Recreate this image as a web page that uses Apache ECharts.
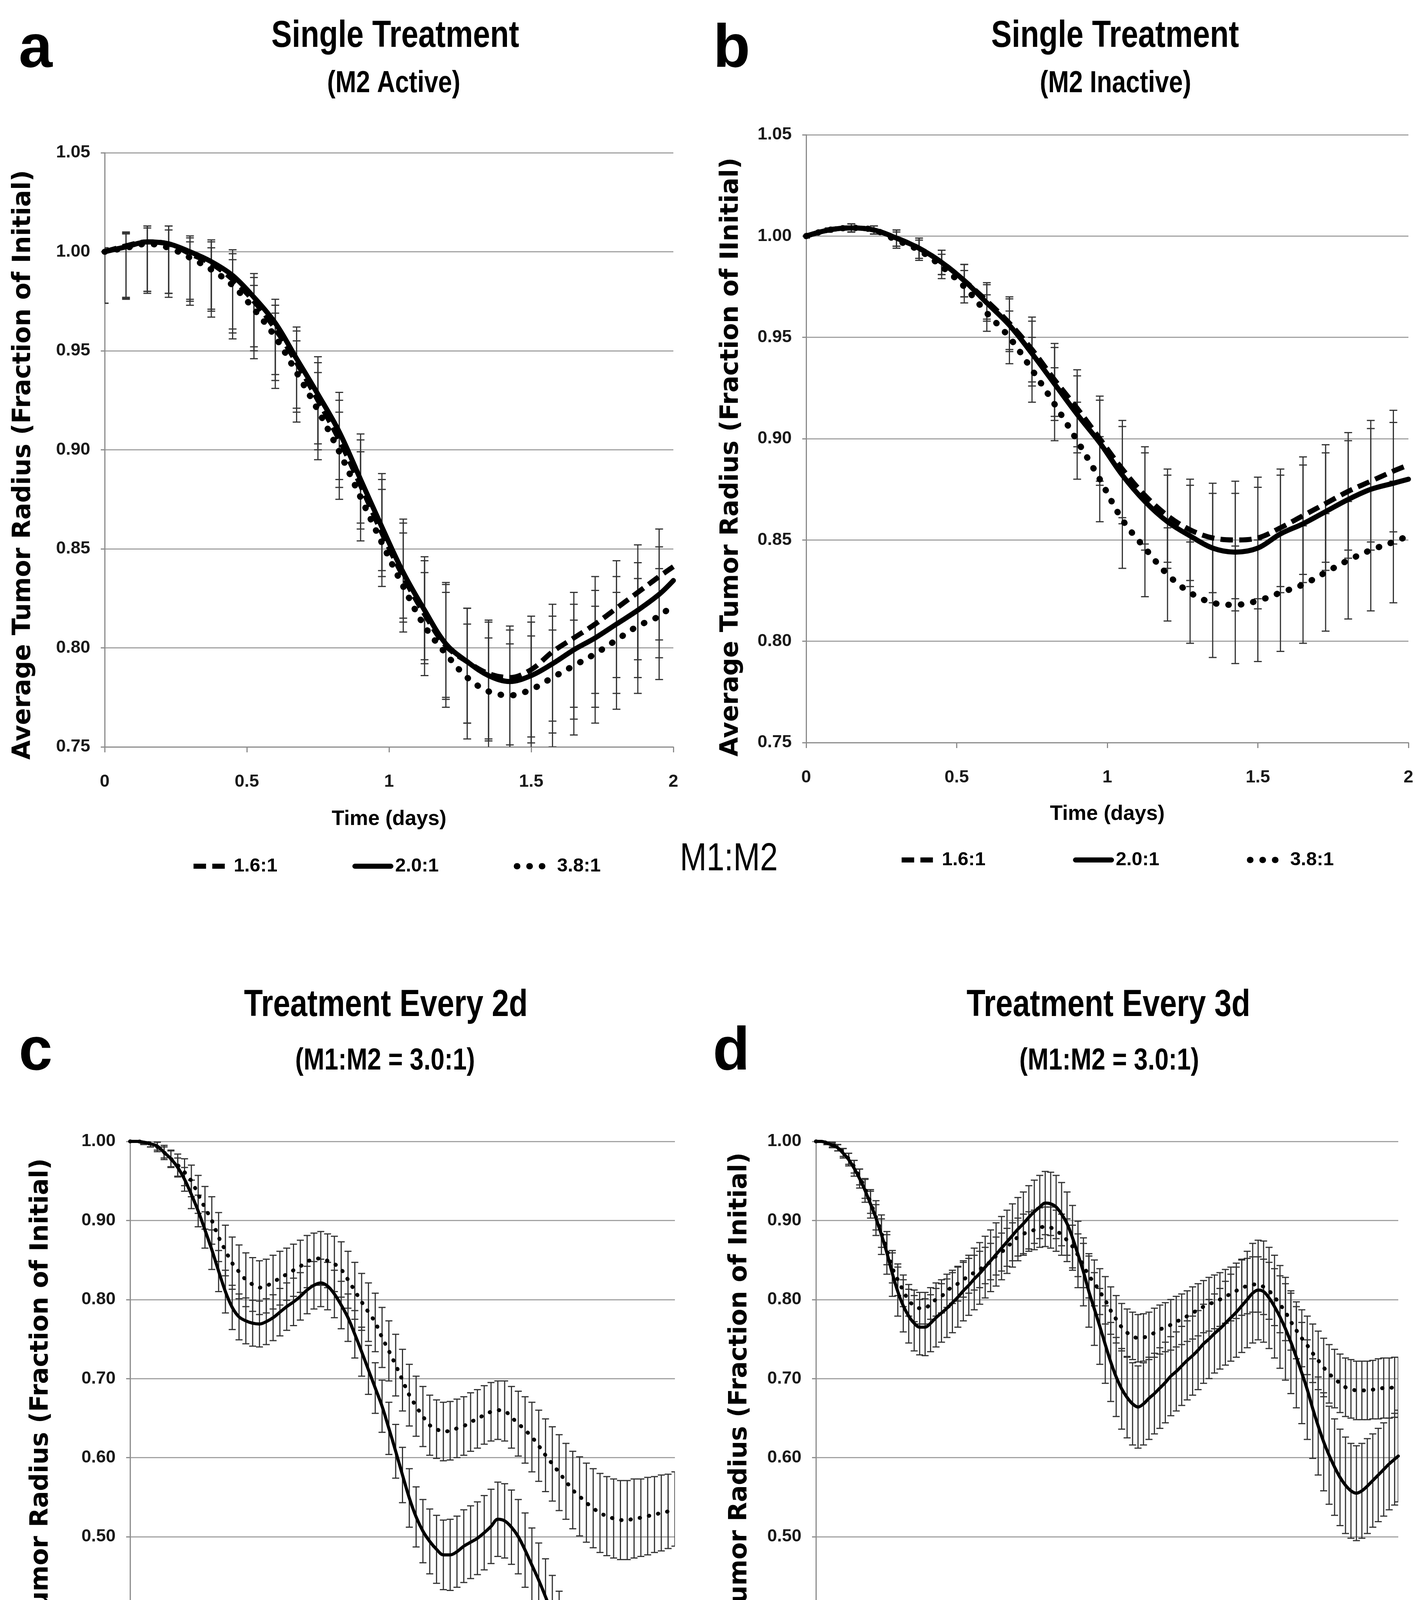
<!DOCTYPE html>
<html>
<head>
<meta charset="utf-8">
<script src="https://cdn.jsdelivr.net/npm/echarts@6/dist/echarts.min.js"></script>
<style>
html,body{margin:0;padding:0;background:#ffffff;}
#chart{width:3651px;height:4843px;}
</style>
</head>
<body>
<div id="chart"></div>
<script>
// ---------------- DATA ----------------
// Panels a & b: time grid (days)
const timeAB = [0,0.075,0.15,0.225,0.3,0.375,0.45,0.525,0.6,0.675,0.75,0.825,0.9,0.975,1.05,1.125,1.2,1.275,1.35,1.425,1.5,1.575,1.65,1.725,1.8,1.875,1.95,2];

// Panel a: Single Treatment (M2 Active)
const ratio16_A = [1.000,1.003,1.005,1.004,0.999,0.994,0.986,0.975,0.961,0.944,0.925,0.905,0.882,0.858,0.836,0.817,0.801,0.793,0.787,0.785,0.789,0.798,0.805,0.812,0.820,0.828,0.836,0.841];
const ratio20_A = [1.000,1.0025,1.005,1.004,1.000,0.995,0.988,0.977,0.964,0.946,0.928,0.909,0.885,0.861,0.838,0.819,0.802,0.793,0.786,0.783,0.786,0.792,0.799,0.805,0.812,0.819,0.827,0.834];
const ratio38_A = [1.000,1.002,1.004,1.002,0.997,0.991,0.983,0.971,0.957,0.939,0.920,0.899,0.876,0.853,0.831,0.811,0.797,0.785,0.778,0.776,0.779,0.785,0.791,0.797,0.804,0.811,0.816,0.822];
const errUp_A   = [0.002,0.007,0.008,0.009,0.008,0.011,0.013,0.012,0.012,0.016,0.019,0.020,0.023,0.027,0.027,0.027,0.031,0.027,0.027,0.026,0.027,0.024,0.023,0.024,0.024,0.024,0.024,null];
const errDown_A = [0.026,0.026,0.025,0.025,0.024,0.024,0.027,0.025,0.026,0.025,0.025,0.024,0.022,0.022,0.023,0.025,0.027,0.031,0.033,0.034,0.034,0.035,0.035,0.035,0.035,0.034,0.032,null];

// Panel b: Single Treatment (M2 Inactive)
const ratio16_B = [1.000,1.003,1.004,1.003,0.999,0.994,0.987,0.978,0.968,0.957,0.944,0.929,0.915,0.900,0.885,0.872,0.862,0.855,0.851,0.850,0.851,0.856,0.862,0.868,0.874,0.879,0.884,0.887];
const ratio20_B = [1.000,1.003,1.004,1.003,0.999,0.994,0.987,0.978,0.967,0.956,0.942,0.927,0.912,0.898,0.882,0.869,0.859,0.852,0.846,0.844,0.846,0.853,0.858,0.864,0.870,0.875,0.878,0.880];
const ratio38_B = [1.000,1.003,1.004,1.003,0.998,0.993,0.985,0.975,0.962,0.950,0.934,0.917,0.899,0.880,0.860,0.846,0.833,0.824,0.819,0.818,0.820,0.824,0.828,0.834,0.840,0.845,0.849,0.852];
const err_B     = [0.001,0.001,0.002,0.002,0.004,0.005,0.006,0.008,0.009,0.013,0.016,0.018,0.019,0.021,0.024,0.024,0.023,0.025,0.027,0.029,0.030,0.029,0.029,0.029,0.029,0.030,0.030,null];

// Panel c: Treatment Every 2d
const timeC = [0,0.075,0.15,0.225,0.3,0.375,0.45,0.525,0.6,0.675,0.75,0.825,0.9,0.975,1.05,1.125,1.2,1.275,1.35,1.425,1.5,1.575,1.65,1.725,1.8,1.875,1.95,2.025,2.1,2.175,2.25,2.325,2.4,2.475,2.55,2.625,2.7,2.775,2.85,2.925,3,3.075,3.15,3.225,3.3,3.375,3.45,3.525,3.6,3.675,3.75,3.825,3.9,3.975,4.05,4.125,4.2,4.275,4.35,4.425,4.5,4.575,4.65,4.725,4.8,4.875,4.95,5.025,5.1,5.175,5.25,5.325,5.4,5.475,5.55,5.625,5.7,5.775,5.85,5.925,6];
const activeC = [1.000,1.000,0.999,0.997,0.994,0.986,0.978,0.967,0.952,0.933,
  0.912,0.888,0.863,0.836,0.810,0.790,0.778,0.773,0.770,0.769,
  0.772,0.777,0.784,0.791,0.797,0.804,0.812,0.818,0.821,0.817,
  0.807,0.793,0.777,0.756,0.734,0.711,0.688,0.665,0.637,0.608,
  0.578,0.549,0.525,0.507,0.494,0.484,0.477,0.477,0.481,0.488,
  0.493,0.498,0.505,0.513,0.522,0.520,0.512,0.500,0.483,0.464,
  0.445,0.424,0.402,0.381,0.361,0.342,0.326,0.312,0.298,0.286,
  0.276,0.268,0.262,0.256,0.262,0.266,0.269,0.274,0.277,0.281,
  0.285];
const inactiveC = [1.000,1.000,0.999,0.997,0.993,0.986,0.978,0.970,0.961,0.950,
  0.933,0.916,0.900,0.879,0.862,0.846,0.835,0.825,0.819,0.815,
  0.817,0.822,0.827,0.832,0.837,0.842,0.848,0.851,0.852,0.849,
  0.845,0.838,0.825,0.811,0.797,0.784,0.771,0.752,0.735,0.717,
  0.698,0.679,0.665,0.652,0.641,0.636,0.633,0.634,0.637,0.640,
  0.645,0.649,0.654,0.658,0.660,0.659,0.651,0.643,0.635,0.626,
  0.615,0.603,0.592,0.581,0.570,0.559,0.551,0.543,0.536,0.530,
  0.526,0.523,0.521,0.521,0.523,0.524,0.526,0.528,0.530,0.532,
  0.535];
const errActiveC = [0,0.001,0.002,0.004,0.005,0.007,0.010,0.012,0.015,0.018,
  0.020,0.023,0.025,0.026,0.027,0.028,0.029,0.029,0.029,0.029,
  0.029,0.029,0.030,0.030,0.030,0.030,0.030,0.030,0.030,0.030,
  0.030,0.030,0.030,0.030,0.031,0.031,0.032,0.033,0.033,0.034,
  0.035,0.037,0.038,0.040,0.041,0.043,0.044,0.045,0.045,0.046,
  0.046,0.046,0.047,0.047,0.047,0.047,0.047,0.047,0.047,0.047,
  0.047,0.048,0.049,0.050,0.052,0.053,0.054,0.055,0.057,0.058,
  0.060,0.062,0.063,0.065,0.066,0.067,0.068,0.069,0.070,0.071,
  0.072];
const errInactiveC = [0,0.001,0.003,0.004,0.006,0.009,0.011,0.014,0.017,0.020,
  0.024,0.027,0.030,0.031,0.032,0.033,0.034,0.034,0.034,0.034,
  0.034,0.034,0.034,0.033,0.033,0.033,0.033,0.033,0.034,0.034,
  0.035,0.035,0.036,0.036,0.036,0.037,0.037,0.038,0.038,0.039,
  0.039,0.039,0.038,0.038,0.038,0.037,0.037,0.037,0.037,0.037,
  0.037,0.037,0.037,0.037,0.037,0.038,0.039,0.041,0.042,0.044,
  0.045,0.046,0.047,0.048,0.048,0.049,0.050,0.050,0.050,0.050,
  0.050,0.050,0.050,0.050,0.050,0.049,0.049,0.048,0.048,0.047,
  0.047];

// Panel d: Treatment Every 3d
const timeD = [0,0.075,0.15,0.225,0.3,0.375,0.45,0.525,0.6,0.675,0.75,0.825,0.9,0.975,1.05,1.125,1.2,1.275,1.35,1.425,1.5,1.575,1.65,1.725,1.8,1.875,1.95,2.025,2.1,2.175,2.25,2.325,2.4,2.475,2.55,2.625,2.7,2.775,2.85,2.925,3,3.075,3.15,3.225,3.3,3.375,3.45,3.525,3.6,3.675,3.75,3.825,3.9,3.975,4.05,4.125,4.2,4.275,4.35,4.425,4.5,4.575,4.65,4.725,4.8,4.875,4.95,5.025,5.1,5.175,5.25,5.325,5.4,5.475,5.55,5.625,5.7,5.775,5.85,5.925,6,6.075,6.15,6.225,6.3,6.375,6.45,6.525,6.6,6.675,6.75,6.825,6.9,6.975,7.05,7.125,7.2,7.275,7.35,7.425,7.5,7.575,7.65,7.725,7.8,7.875,7.95,8];
const activeD = [1.000,1.000,0.998,0.995,0.992,0.985,0.977,0.966,0.953,0.938,
  0.921,0.903,0.882,0.859,0.833,0.810,0.792,0.779,0.770,0.765,
  0.765,0.770,0.777,0.783,0.789,0.796,0.803,0.811,0.818,0.826,
  0.833,0.841,0.849,0.857,0.865,0.873,0.881,0.889,0.896,0.904,
  0.911,0.917,0.922,0.921,0.917,0.908,0.896,0.878,0.857,0.835,
  0.810,0.788,0.766,0.743,0.721,0.702,0.687,0.676,0.668,0.664,
  0.668,0.675,0.681,0.688,0.695,0.703,0.709,0.716,0.723,0.729,
  0.736,0.744,0.750,0.757,0.763,0.770,0.777,0.784,0.792,0.800,
  0.808,0.812,0.810,0.802,0.791,0.778,0.763,0.746,0.727,0.707,
  0.686,0.662,0.640,0.620,0.603,0.588,0.575,0.565,0.558,0.555,
  0.558,0.564,0.571,0.578,0.585,0.592,0.598,0.602];
const inactiveD = [1.000,1.000,0.998,0.996,0.992,0.986,0.978,0.968,0.955,0.940,
  0.923,0.904,0.884,0.863,0.840,0.825,0.811,0.799,0.792,0.789,
  0.789,0.795,0.800,0.804,0.811,0.816,0.820,0.825,0.830,0.834,
  0.838,0.843,0.848,0.855,0.860,0.866,0.873,0.879,0.883,0.886,
  0.888,0.891,0.892,0.891,0.887,0.882,0.875,0.867,0.856,0.843,
  0.830,0.821,0.810,0.799,0.786,0.775,0.765,0.758,0.754,0.751,
  0.752,0.754,0.758,0.762,0.765,0.768,0.772,0.775,0.779,0.783,
  0.787,0.791,0.794,0.797,0.800,0.804,0.807,0.811,0.815,0.817,
  0.819,0.819,0.816,0.811,0.803,0.794,0.784,0.772,0.761,0.751,
  0.742,0.732,0.723,0.714,0.706,0.700,0.694,0.689,0.687,0.685,
  0.685,0.685,0.686,0.687,0.688,0.688,0.689,0.689];
const errActiveD = [0,0.001,0.002,0.003,0.004,0.006,0.008,0.010,0.012,0.015,
  0.018,0.022,0.025,0.027,0.029,0.031,0.033,0.034,0.035,0.035,
  0.036,0.036,0.037,0.037,0.037,0.038,0.038,0.038,0.038,0.039,
  0.039,0.039,0.039,0.040,0.040,0.040,0.040,0.040,0.040,0.040,
  0.040,0.040,0.040,0.040,0.040,0.040,0.040,0.041,0.042,0.043,
  0.045,0.046,0.048,0.049,0.050,0.050,0.051,0.051,0.052,0.052,
  0.052,0.052,0.051,0.051,0.051,0.050,0.050,0.050,0.050,0.050,
  0.050,0.050,0.050,0.050,0.051,0.053,0.055,0.057,0.059,0.061,
  0.063,0.063,0.064,0.064,0.065,0.065,0.065,0.065,0.064,0.064,
  0.063,0.063,0.062,0.062,0.062,0.061,0.061,0.061,0.060,0.060,
  0.060,0.060,0.059,0.059,0.059,0.058,0.058,0.058];
const errInactiveD = [0,0.001,0.002,0.003,0.004,0.005,0.007,0.008,0.010,0.012,
  0.014,0.016,0.018,0.019,0.019,0.020,0.020,0.020,0.020,0.020,
  0.020,0.020,0.021,0.021,0.021,0.021,0.022,0.022,0.022,0.022,
  0.023,0.023,0.023,0.024,0.024,0.024,0.024,0.024,0.025,0.025,
  0.025,0.025,0.025,0.026,0.026,0.026,0.027,0.027,0.027,0.028,
  0.028,0.029,0.029,0.030,0.030,0.030,0.030,0.030,0.030,0.030,
  0.030,0.030,0.031,0.031,0.031,0.032,0.032,0.032,0.032,0.033,
  0.033,0.033,0.034,0.034,0.034,0.034,0.034,0.035,0.035,0.035,
  0.035,0.035,0.035,0.036,0.036,0.036,0.036,0.036,0.036,0.036,
  0.037,0.037,0.037,0.037,0.037,0.037,0.037,0.037,0.037,0.037,
  0.037,0.037,0.037,0.038,0.038,0.038,0.038,0.038];

// Labels
const legendAB = ['1.6:1','2.0:1','3.8:1'];
const legendCD = ['M2 Active','M2 Inactive'];
const yAxisTitle = 'Average Tumor Radius (Fraction of Initial)';
const yAxisTitleB = 'Average Tumor Radius (Fraction of IInitial)';

// ---------------- CHART ----------------
const W = 3651, H = 4843;
const chart = echarts.init(document.getElementById('chart'), null, {width: W, height: H, renderer: 'canvas'});

const SANS = "'Liberation Sans',Arial,sans-serif";
const WIDE = "'DejaVu Sans',Verdana,sans-serif";
const AXIS_GREY = '#8c8c8c';
const GRID_GREY = '#a3a3a3';
const BAR_COLOR = '#333333';
const NARROW_SCALE = 0.82;

function pairs(t, v) { return t.map((x, i) => [x, v[i]]); }
function bars(t, v, up, down) {
  const out = [];
  t.forEach((x, i) => {
    if (up[i] == null || down[i] == null) return;
    out.push([x, v[i] - down[i], v[i] + up[i]]);
  });
  return out;
}
function errRender(capHalf, lw) {
  return function (params, api) {
    const x = api.value(0), lo = api.value(1), hi = api.value(2);
    const pHi = api.coord([x, hi]);
    const pLo = api.coord([x, lo]);
    const style = {stroke: BAR_COLOR, lineWidth: lw, fill: null};
    return {
      type: 'group',
      children: [
        {type: 'line', shape: {x1: pHi[0], y1: pHi[1], x2: pLo[0], y2: pLo[1]}, style: style},
        {type: 'line', shape: {x1: pHi[0] - capHalf, y1: pHi[1], x2: pHi[0] + capHalf, y2: pHi[1]}, style: style},
        {type: 'line', shape: {x1: pLo[0] - capHalf, y1: pLo[1], x2: pLo[0] + capHalf, y2: pLo[1]}, style: style}
      ]
    };
  };
}
function errSeries(gi, data, capHalf, lw) {
  return {
    type: 'custom', xAxisIndex: gi, yAxisIndex: gi, data: data, clip: true, z: 1,
    renderItem: errRender(capHalf, lw), encode: {x: 0, y: [1, 2]}, silent: true
  };
}
function lineSeries(gi, name, data, style) {
  return {
    type: 'line', name: name, xAxisIndex: gi, yAxisIndex: gi, data: data,
    showSymbol: false, symbol: 'none', smooth: 0.35, z: 3, silent: true,
    itemStyle: {color: '#000'},
    lineStyle: Object.assign({color: '#000'}, style)
  };
}

const grids = [
  {left: 268, top: 391, width: 1456, height: 1521},
  {left: 2064, top: 345, width: 1542, height: 1556},
  {left: 333, top: 2922, width: 1395, height: 1619},
  {left: 2089, top: 2922, width: 1491, height: 1619}
];

const tickFont = {fontSize: 45, fontWeight: 'bold', fontFamily: SANS, color: '#1a1a1a'};

function xAx(gi, max, interval, labelMargin, name, nameGap, lineW, tickLen) {
  return {
    type: 'value', gridIndex: gi, min: 0, max: max, interval: interval,
    axisLine: {show: true, onZero: false, lineStyle: {color: AXIS_GREY, width: lineW}},
    axisTick: {show: true, length: tickLen, lineStyle: {color: AXIS_GREY, width: 3}},
    axisLabel: Object.assign({margin: labelMargin}, tickFont),
    splitLine: {show: false},
    name: name, nameLocation: 'middle', nameGap: nameGap,
    nameTextStyle: {fontSize: 53, fontWeight: 'bold', fontFamily: SANS, color: '#000'}
  };
}
function yAx(gi, min, max, interval) {
  return {
    type: 'value', gridIndex: gi, min: min, max: max, interval: interval,
    axisLine: {show: true, lineStyle: {color: AXIS_GREY, width: 3}},
    axisTick: {show: true, length: 10, lineStyle: {color: AXIS_GREY, width: 3}},
    axisLabel: Object.assign({margin: 37, formatter: v => v.toFixed(2)}, tickFont),
    splitLine: {show: true, lineStyle: {color: GRID_GREY, width: 3}}
  };
}

const DASH_AB = {width: 13, type: [32, 16], cap: 'butt'};
const SOLID_AB = {width: 13, type: 'solid', cap: 'round'};
const DOT_AB = {width: 16, type: [1, 31], cap: 'round'};
const SOLID_CD = {width: 8, type: 'solid', cap: 'round'};
const DOT_CD = {width: 10, type: [1, 23], cap: 'round'};

const series = [
  // panel a
  errSeries(0, bars(timeAB, ratio16_A, errUp_A, errDown_A), 10, 3),
  errSeries(0, bars(timeAB, ratio20_A, errUp_A, errDown_A), 10, 3),
  errSeries(0, bars(timeAB, ratio38_A, errUp_A, errDown_A), 10, 3),
  lineSeries(0, legendAB[0], pairs(timeAB, ratio16_A), DASH_AB),
  lineSeries(0, legendAB[1], pairs(timeAB, ratio20_A), SOLID_AB),
  lineSeries(0, legendAB[2], pairs(timeAB, ratio38_A), DOT_AB),
  // panel b
  errSeries(1, bars(timeAB, ratio16_B, err_B, err_B), 10, 3),
  errSeries(1, bars(timeAB, ratio20_B, err_B, err_B), 10, 3),
  errSeries(1, bars(timeAB, ratio38_B, err_B, err_B), 10, 3),
  lineSeries(1, legendAB[0], pairs(timeAB, ratio16_B), DASH_AB),
  lineSeries(1, legendAB[1], pairs(timeAB, ratio20_B), SOLID_AB),
  lineSeries(1, legendAB[2], pairs(timeAB, ratio38_B), DOT_AB),
  // panel c
  errSeries(2, bars(timeC, activeC, errActiveC, errActiveC), 9, 3),
  errSeries(2, bars(timeC, inactiveC, errInactiveC, errInactiveC), 9, 3),
  lineSeries(2, legendCD[0], pairs(timeC, activeC), SOLID_CD),
  lineSeries(2, legendCD[1], pairs(timeC, inactiveC), DOT_CD),
  // panel d
  errSeries(3, bars(timeD, activeD, errActiveD, errActiveD), 9, 3),
  errSeries(3, bars(timeD, inactiveD, errInactiveD, errInactiveD), 9, 3),
  lineSeries(3, legendCD[0], pairs(timeD, activeD), SOLID_CD),
  lineSeries(3, legendCD[1], pairs(timeD, inactiveD), DOT_CD)
];

const legendText = {fontSize: 49, fontWeight: 'bold', fontFamily: SANS, color: '#000', padding: [0, 0, 0, 6]};
function legendAt(left, top, names, widths, gap, iw) {
  return {
    left: left, top: top, orient: 'horizontal', itemWidth: iw, itemHeight: 50, itemGap: gap,
    selectedMode: false, textStyle: legendText, padding: 0,
    itemStyle: {color: 'rgba(0,0,0,0)', borderColor: 'rgba(0,0,0,0)', borderWidth: 0},
    data: names.map((n, i) => ({name: n, lineStyle: {width: widths[i]}}))
  };
}

function txt(text, x, y, font, align, rotation, scaleX) {
  return {
    type: 'text', x: x, y: y, rotation: rotation || 0, scaleX: scaleX || 1, silent: true,
    style: {text: text, font: font, fill: '#000', textAlign: align, textVerticalAlign: 'middle'}
  };
}
const TITLE_FONT = "bold 96px " + SANS;
const SUB_FONT = "bold 78px " + SANS;
const LETTER_FONT = "bold 155px " + SANS;
const YT_FONT = "bold 64px " + WIDE;

const graphics = [
  txt('a', 48, 128, LETTER_FONT, 'left'),
  txt('b', 1826, 128, LETTER_FONT, 'left'),
  txt('c', 48, 2695, LETTER_FONT, 'left'),
  txt('d', 1825, 2695, LETTER_FONT, 'left'),
  txt('Single Treatment', 1012, 94, TITLE_FONT, 'center', 0, NARROW_SCALE),
  txt('(M2 Active)', 1008, 214, SUB_FONT, 'center', 0, NARROW_SCALE),
  txt('Single Treatment', 2855, 94, TITLE_FONT, 'center', 0, NARROW_SCALE),
  txt('(M2 Inactive)', 2856, 214, SUB_FONT, 'center', 0, NARROW_SCALE),
  txt('Treatment Every 2d', 988, 2575, TITLE_FONT, 'center', 0, NARROW_SCALE),
  txt('(M1:M2 = 3.0:1)', 986, 2716, SUB_FONT, 'center', 0, NARROW_SCALE),
  txt('Treatment Every 3d', 2838, 2575, TITLE_FONT, 'center', 0, NARROW_SCALE),
  txt('(M1:M2 = 3.0:1)', 2840, 2716, SUB_FONT, 'center', 0, NARROW_SCALE),
  txt(yAxisTitle, 60, 1190, YT_FONT, 'center', Math.PI / 2),
  txt(yAxisTitleB, 1872, 1170, YT_FONT, 'center', Math.PI / 2),
  txt(yAxisTitle, 105, 3720, YT_FONT, 'center', Math.PI / 2),
  txt(yAxisTitle, 1894, 3705, YT_FONT, 'center', Math.PI / 2),
  txt('M1:M2', 1866, 2200, "100px " + SANS, 'center', 0, NARROW_SCALE)
];

const option = {
  animation: false,
  backgroundColor: '#ffffff',
  grid: grids,
  xAxis: [
    xAx(0, 2, 0.5, 67, 'Time (days)', 159, 3, 14),
    xAx(1, 2, 0.5, 67, 'Time (days)', 157, 3, 14),
    xAx(2, 6, 1, 70, '', 0, 6, 22),
    xAx(3, 8, 1, 70, '', 0, 6, 22)
  ],
  yAxis: [
    yAx(0, 0.75, 1.05, 0.05),
    yAx(1, 0.75, 1.05, 0.05),
    yAx(2, 0.2, 1.0, 0.1),
    yAx(3, 0.2, 1.0, 0.1)
  ],
  legend: [
    legendAt(489, 2193, legendAB, [13, 13, 16], 192, 92),
    legendAt(2302, 2177, legendAB, [13, 13, 16], 224, 92),
    legendAt(617, 4746, legendCD, [8, 10], 50, 96),
    legendAt(2407, 4746, legendCD, [8, 10], 56, 96)
  ],
  series: series,
  graphic: graphics
};
chart.setOption(option);
</script>
</body>
</html>
